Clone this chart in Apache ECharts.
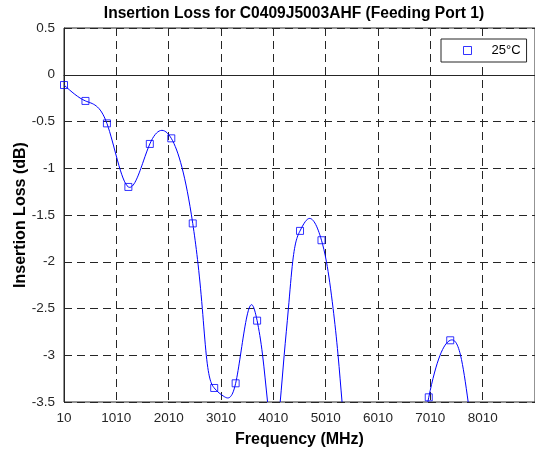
<!DOCTYPE html>
<html>
<head>
<meta charset="utf-8">
<script src="https://cdn.jsdelivr.net/npm/echarts@6/dist/echarts.min.js"></script>
<style>
html,body{margin:0;padding:0;background:#fff;}
#chart{width:535px;height:453px;}
</style>
</head>
<body>
<div id="chart"></div>
<script>
// Measured points shown with square markers (MHz, dB)
var markerFreqs = [10, 420, 830, 1240, 1650, 2060, 2470, 2880, 3290, 3700, 4520, 4930, 6980, 7390];
var markerLoss  = [-0.11, -0.28, -0.52, -1.20, -0.74, -0.68, -1.59, -3.35, -3.30, -2.63, -1.67, -1.77, -3.45, -2.84];
// Points (MHz, dB); values below -3.5 are off-chart estimates
var curveFreqs = [10, 420, 830, 1240, 1650, 2060, 2470, 2653, 2729, 2880, 3065, 3290, 3382, 3602, 3700, 3805, 3900, 4020, 4141, 4217, 4298, 4380, 4520, 4678, 4930, 5025, 5152, 5247, 5323, 5420, 6800, 6980, 7196, 7390, 7587, 7733, 7850];
var curveLoss  = [-0.11, -0.28, -0.52, -1.20, -0.74, -0.68, -1.59, -2.50, -3.00, -3.35, -3.44, -3.30, -3.00, -2.46, -2.63, -3.00, -3.50, -3.90, -3.50, -3.00, -2.50, -2.00, -1.67, -1.54, -1.77, -2.00, -2.50, -3.00, -3.50, -4.10, -4.00, -3.45, -3.00, -2.84, -3.00, -3.50, -4.00];
// x tick labels
var xTicks = [10, 1010, 2010, 3010, 4010, 5010, 6010, 7010, 8010];
var seriesName = '25°C';

var markerPts = markerFreqs.map(function (f, i) { return [f, markerLoss[i]]; });
var curvePts = curveFreqs.map(function (f, i) { return [f, curveLoss[i]]; });

// Natural cubic spline end slopes per segment (only shapes the drawn path between read points)
function splineSlopes(x, y) {
  var n = x.length, h = [], i;
  for (i = 0; i < n - 1; i++) h.push(x[i + 1] - x[i]);
  var a = new Array(n).fill(0), b = new Array(n).fill(0), c = new Array(n).fill(0), d = new Array(n).fill(0);
  b[0] = 1; b[n - 1] = 1;
  for (i = 1; i < n - 1; i++) {
    a[i] = h[i - 1]; b[i] = 2 * (h[i - 1] + h[i]); c[i] = h[i];
    d[i] = 6 * ((y[i + 1] - y[i]) / h[i] - (y[i] - y[i - 1]) / h[i - 1]);
  }
  for (i = 1; i < n; i++) {
    var m = a[i] / b[i - 1];
    b[i] -= m * c[i - 1]; d[i] -= m * d[i - 1];
  }
  var M = new Array(n).fill(0);
  M[n - 1] = d[n - 1] / b[n - 1];
  for (i = n - 2; i >= 0; i--) M[i] = (d[i] - c[i] * M[i + 1]) / b[i];
  var s0 = [], s1 = [];
  for (i = 0; i < n - 1; i++) {
    var sl = (y[i + 1] - y[i]) / h[i];
    s0.push(sl - h[i] * (2 * M[i] + M[i + 1]) / 6);
    s1.push(sl + h[i] * (M[i] + 2 * M[i + 1]) / 6);
  }
  return {s0: s0, s1: s1};
}
var slopes = splineSlopes(curveFreqs, curveLoss);

var chart = echarts.init(document.getElementById('chart'), null, {renderer: 'canvas'});
var font = 'Liberation Sans, Arial, Helvetica, sans-serif';
var gridColor = '#262626';
chart.setOption({
  animation: false,
  backgroundColor: '#fff',
  title: {
    text: 'Insertion Loss for C0409J5003AHF (Feeding Port 1)',
    left: 294, top: 6, padding: 0, textAlign: 'center',
    textStyle: {fontFamily: font, fontSize: 15.6, fontWeight: 'bold', color: '#000'}
  },
  legend: {
    left: 441, top: 39,
    padding: [5, 6, 5, 22],
    backgroundColor: '#fff',
    borderColor: gridColor, borderWidth: 1,
    itemWidth: 8, itemHeight: 8,
    data: [{name: seriesName, icon: 'rect', itemStyle: {color: 'transparent', borderColor: '#0000ff', borderWidth: 1}}],
    textStyle: {fontFamily: font, fontSize: 13, color: '#000', padding: [0, 0, 0, 15]}
  },
  grid: {left: 64, right: -3, top: 28, bottom: 51, show: true, borderColor: gridColor, borderWidth: 1, backgroundColor: '#fff'},
  xAxis: {
    type: 'value', min: 10, max: 9010, interval: 1000,
    name: 'Frequency (MHz)', nameLocation: 'middle', nameGap: 30, nameMoveOverlap: false,
    nameTextStyle: {fontFamily: font, fontSize: 16, fontWeight: 'bold', color: '#000'},
    axisLine: {show: true, lineStyle: {color: gridColor, width: 1}},
    axisTick: {show: true, inside: true, length: 5, lineStyle: {color: gridColor}, customValues: xTicks},
    axisLabel: {fontFamily: font, fontSize: 13.5, color: '#262626', margin: 9, customValues: xTicks,
      formatter: function (v) { return String(v); }},
    splitLine: {show: true, lineStyle: {color: gridColor, width: 1, type: [8, 5]}}
  },
  yAxis: {
    type: 'value', min: -3.5, max: 0.5, interval: 0.5,
    name: 'Insertion Loss (dB)', nameLocation: 'middle', nameGap: 35, nameMoveOverlap: false,
    nameTextStyle: {fontFamily: font, fontSize: 16, fontWeight: 'bold', color: '#000'},
    axisLine: {show: true, lineStyle: {color: gridColor, width: 1}},
    axisTick: {show: true, inside: true, length: 5, lineStyle: {color: gridColor}},
    axisLabel: {fontFamily: font, fontSize: 13.5, color: '#262626', margin: 9},
    splitLine: {show: true, lineStyle: {color: gridColor, width: 1, type: [8, 5]}}
  },
  series: [
    {
      type: 'custom', name: 'curve', data: curvePts, silent: true, z: 2,
      renderItem: function (params, api) {
        var i = params.dataIndex;
        if (i >= curveFreqs.length - 1) return null;
        var x0 = api.value(0), y0 = api.value(1);
        var x1 = curveFreqs[i + 1], y1 = curveLoss[i + 1];
        var hh = x1 - x0;
        var p0 = api.coord([x0, y0]);
        var p1 = api.coord([x1, y1]);
        var c0 = api.coord([x0 + hh / 3, y0 + slopes.s0[i] * hh / 3]);
        var c1 = api.coord([x1 - hh / 3, y1 - slopes.s1[i] * hh / 3]);
        var cs = params.coordSys;
        return {
          type: 'group',
          clipPath: {type: 'rect', shape: {x: cs.x, y: cs.y, width: cs.width, height: cs.height}},
          children: [{
            type: 'bezierCurve',
            shape: {x1: p0[0], y1: p0[1], x2: p1[0], y2: p1[1], cpx1: c0[0], cpy1: c0[1], cpx2: c1[0], cpy2: c1[1]},
            style: {stroke: '#0000ff', fill: null, lineWidth: 1}
          }]
        };
      }
    },
    {
      type: 'scatter', name: seriesName, data: markerPts, symbol: 'rect', symbolSize: 7,
      itemStyle: {color: 'transparent', borderColor: '#0000ff', borderWidth: 1}, clip: true, z: 3
    }
  ]
});
</script>
</body>
</html>
